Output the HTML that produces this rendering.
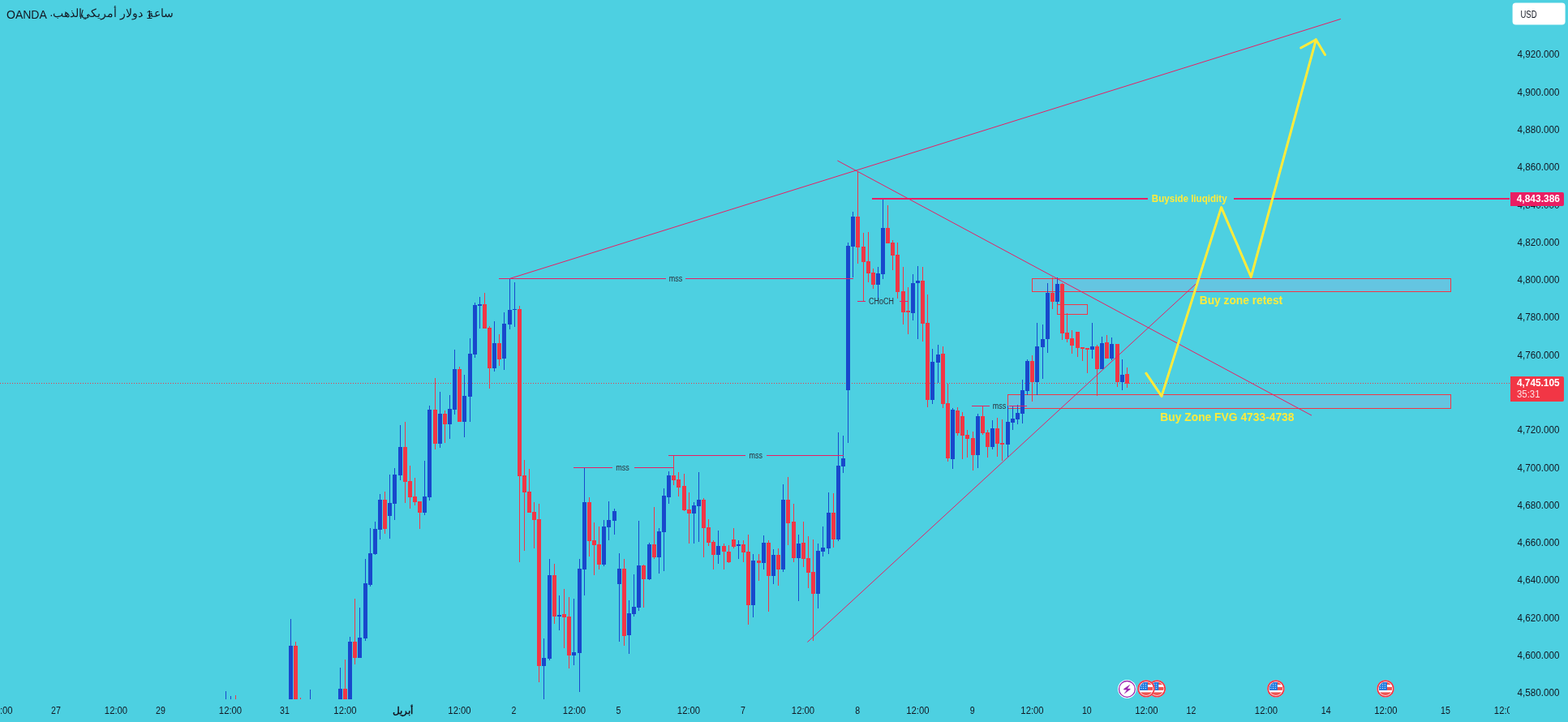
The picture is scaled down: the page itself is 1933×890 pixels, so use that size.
<!DOCTYPE html>
<html lang="en"><head><meta charset="utf-8"><title>XAUUSD chart</title>
<style>
html,body{margin:0;padding:0;}
body{width:1933px;height:890px;background:#4dd0e1;overflow:hidden;position:relative;font-family:"Liberation Sans", sans-serif;}
svg{position:absolute;left:0;top:0;display:block;will-change:transform;}
text{font-family:"Liberation Sans", sans-serif;}
.ax{font-size:12px;fill:#131722;}
.lbl{font-size:10px;fill:#2a2e39;}
.ttl{position:absolute;left:8px;top:9px;font-size:14px;line-height:16px;color:#131722;white-space:nowrap;}
</style></head><body>
<svg width="1933" height="890" viewBox="0 0 1933 890">
<defs><clipPath id="pane"><rect x="0" y="0" width="1861" height="862"/></clipPath>
<clipPath id="taxis"><rect x="0" y="862" width="1861" height="28"/></clipPath>
<clipPath id="flagc"><circle cx="0" cy="0" r="8.2"/></clipPath>
</defs>

<g clip-path="url(#pane)">
<rect x="1272.5" y="343.5" width="516.0" height="16.0" fill="#64c5e1" stroke="#f23645" stroke-width="1" shape-rendering="crispEdges"/>
<rect x="1303.5" y="375.5" width="37.0" height="12.0" fill="#64c5e1" stroke="#f23645" stroke-width="1" shape-rendering="crispEdges"/>
<rect x="1242.5" y="486.5" width="546.0" height="17.0" fill="#64c5e1" stroke="#f23645" stroke-width="1" shape-rendering="crispEdges"/>
<line x1="0" y1="472.5" x2="1861" y2="472.5" stroke="#f23645" stroke-width="1" stroke-dasharray="1 2" shape-rendering="crispEdges"/>
<g shape-rendering="crispEdges">
<rect x="278" y="852" width="1" height="10" fill="#1848cc"/>
<rect x="284" y="858" width="1" height="4" fill="#1848cc"/>
<rect x="290" y="857" width="1" height="5" fill="#f23645"/>
<rect x="358" y="763" width="1" height="137" fill="#1848cc"/>
<rect x="356" y="796" width="5" height="104" fill="#1848cc"/>
<rect x="364" y="791" width="1" height="109" fill="#f23645"/>
<rect x="362" y="796" width="5" height="104" fill="#f23645"/>
<rect x="370" y="860" width="1" height="2" fill="#f23645"/>
<rect x="382" y="850" width="1" height="12" fill="#1848cc"/>
<rect x="419" y="823" width="1" height="77" fill="#1848cc"/>
<rect x="417" y="849" width="5" height="51" fill="#1848cc"/>
<rect x="425" y="813" width="1" height="87" fill="#f23645"/>
<rect x="423" y="849" width="5" height="51" fill="#f23645"/>
<rect x="431" y="785" width="1" height="115" fill="#1848cc"/>
<rect x="429" y="791" width="5" height="109" fill="#1848cc"/>
<rect x="437" y="738" width="1" height="81" fill="#f23645"/>
<rect x="435" y="791" width="5" height="20" fill="#f23645"/>
<rect x="443" y="749" width="1" height="62" fill="#1848cc"/>
<rect x="441" y="786" width="5" height="25" fill="#1848cc"/>
<rect x="450" y="689" width="1" height="101" fill="#1848cc"/>
<rect x="448" y="719" width="5" height="68" fill="#1848cc"/>
<rect x="456" y="651" width="1" height="72" fill="#1848cc"/>
<rect x="454" y="682" width="5" height="39" fill="#1848cc"/>
<rect x="462" y="643" width="1" height="41" fill="#1848cc"/>
<rect x="460" y="652" width="5" height="31" fill="#1848cc"/>
<rect x="468" y="609" width="1" height="56" fill="#1848cc"/>
<rect x="466" y="616" width="5" height="37" fill="#1848cc"/>
<rect x="474" y="606" width="1" height="52" fill="#f23645"/>
<rect x="472" y="616" width="5" height="36" fill="#f23645"/>
<rect x="480" y="585" width="1" height="79" fill="#1848cc"/>
<rect x="478" y="620" width="5" height="16" fill="#1848cc"/>
<rect x="486" y="577" width="1" height="64" fill="#1848cc"/>
<rect x="484" y="585" width="5" height="36" fill="#1848cc"/>
<rect x="493" y="524" width="1" height="68" fill="#1848cc"/>
<rect x="491" y="551" width="5" height="35" fill="#1848cc"/>
<rect x="499" y="520" width="1" height="100" fill="#f23645"/>
<rect x="497" y="551" width="5" height="43" fill="#f23645"/>
<rect x="505" y="574" width="1" height="53" fill="#f23645"/>
<rect x="503" y="593" width="5" height="20" fill="#f23645"/>
<rect x="511" y="589" width="1" height="34" fill="#f23645"/>
<rect x="509" y="612" width="5" height="7" fill="#f23645"/>
<rect x="517" y="618" width="1" height="34" fill="#f23645"/>
<rect x="515" y="618" width="5" height="14" fill="#f23645"/>
<rect x="523" y="568" width="1" height="67" fill="#1848cc"/>
<rect x="521" y="612" width="5" height="20" fill="#1848cc"/>
<rect x="529" y="500" width="1" height="117" fill="#1848cc"/>
<rect x="527" y="505" width="5" height="108" fill="#1848cc"/>
<rect x="536" y="466" width="1" height="88" fill="#f23645"/>
<rect x="534" y="505" width="5" height="42" fill="#f23645"/>
<rect x="542" y="483" width="1" height="69" fill="#1848cc"/>
<rect x="540" y="510" width="5" height="37" fill="#1848cc"/>
<rect x="548" y="506" width="1" height="40" fill="#f23645"/>
<rect x="546" y="510" width="5" height="13" fill="#f23645"/>
<rect x="554" y="487" width="1" height="54" fill="#1848cc"/>
<rect x="552" y="504" width="5" height="19" fill="#1848cc"/>
<rect x="560" y="431" width="1" height="80" fill="#1848cc"/>
<rect x="558" y="455" width="5" height="50" fill="#1848cc"/>
<rect x="566" y="452" width="1" height="68" fill="#f23645"/>
<rect x="564" y="455" width="5" height="65" fill="#f23645"/>
<rect x="572" y="462" width="1" height="77" fill="#1848cc"/>
<rect x="570" y="488" width="5" height="32" fill="#1848cc"/>
<rect x="579" y="417" width="1" height="103" fill="#1848cc"/>
<rect x="577" y="436" width="5" height="53" fill="#1848cc"/>
<rect x="585" y="373" width="1" height="68" fill="#1848cc"/>
<rect x="583" y="376" width="5" height="61" fill="#1848cc"/>
<rect x="591" y="366" width="1" height="39" fill="#1848cc"/>
<rect x="589" y="375" width="5" height="2" fill="#1848cc"/>
<rect x="597" y="361" width="1" height="44" fill="#f23645"/>
<rect x="595" y="375" width="5" height="30" fill="#f23645"/>
<rect x="603" y="402" width="1" height="77" fill="#f23645"/>
<rect x="601" y="404" width="5" height="50" fill="#f23645"/>
<rect x="609" y="396" width="1" height="62" fill="#1848cc"/>
<rect x="607" y="423" width="5" height="31" fill="#1848cc"/>
<rect x="615" y="412" width="1" height="39" fill="#f23645"/>
<rect x="613" y="423" width="5" height="20" fill="#f23645"/>
<rect x="621" y="385" width="1" height="71" fill="#1848cc"/>
<rect x="619" y="399" width="5" height="43" fill="#1848cc"/>
<rect x="628" y="343" width="1" height="63" fill="#1848cc"/>
<rect x="626" y="382" width="5" height="18" fill="#1848cc"/>
<rect x="634" y="348" width="1" height="55" fill="#1848cc"/>
<rect x="632" y="381" width="5" height="1" fill="#1848cc"/>
<rect x="640" y="377" width="1" height="316" fill="#f23645"/>
<rect x="638" y="381" width="5" height="206" fill="#f23645"/>
<rect x="646" y="567" width="1" height="112" fill="#f23645"/>
<rect x="644" y="586" width="5" height="21" fill="#f23645"/>
<rect x="652" y="578" width="1" height="54" fill="#f23645"/>
<rect x="650" y="606" width="5" height="26" fill="#f23645"/>
<rect x="658" y="619" width="1" height="57" fill="#f23645"/>
<rect x="656" y="631" width="5" height="10" fill="#f23645"/>
<rect x="664" y="621" width="1" height="220" fill="#f23645"/>
<rect x="662" y="640" width="5" height="181" fill="#f23645"/>
<rect x="670" y="787" width="1" height="75" fill="#1848cc"/>
<rect x="668" y="811" width="5" height="10" fill="#1848cc"/>
<rect x="677" y="689" width="1" height="125" fill="#1848cc"/>
<rect x="675" y="709" width="5" height="103" fill="#1848cc"/>
<rect x="683" y="695" width="1" height="74" fill="#f23645"/>
<rect x="681" y="709" width="5" height="51" fill="#f23645"/>
<rect x="689" y="734" width="1" height="43" fill="#1848cc"/>
<rect x="687" y="758" width="5" height="2" fill="#1848cc"/>
<rect x="695" y="726" width="1" height="73" fill="#f23645"/>
<rect x="693" y="757" width="5" height="4" fill="#f23645"/>
<rect x="701" y="736" width="1" height="88" fill="#f23645"/>
<rect x="699" y="760" width="5" height="48" fill="#f23645"/>
<rect x="707" y="738" width="1" height="82" fill="#1848cc"/>
<rect x="705" y="804" width="5" height="4" fill="#1848cc"/>
<rect x="714" y="689" width="1" height="164" fill="#1848cc"/>
<rect x="712" y="701" width="5" height="104" fill="#1848cc"/>
<rect x="720" y="577" width="1" height="157" fill="#1848cc"/>
<rect x="718" y="619" width="5" height="83" fill="#1848cc"/>
<rect x="726" y="613" width="1" height="73" fill="#f23645"/>
<rect x="724" y="619" width="5" height="48" fill="#f23645"/>
<rect x="732" y="644" width="1" height="65" fill="#f23645"/>
<rect x="730" y="666" width="5" height="6" fill="#f23645"/>
<rect x="738" y="649" width="1" height="53" fill="#f23645"/>
<rect x="736" y="671" width="5" height="25" fill="#f23645"/>
<rect x="744" y="641" width="1" height="57" fill="#1848cc"/>
<rect x="742" y="649" width="5" height="47" fill="#1848cc"/>
<rect x="750" y="618" width="1" height="48" fill="#1848cc"/>
<rect x="748" y="641" width="5" height="9" fill="#1848cc"/>
<rect x="757" y="627" width="1" height="32" fill="#1848cc"/>
<rect x="755" y="630" width="5" height="12" fill="#1848cc"/>
<rect x="763" y="682" width="1" height="109" fill="#1848cc"/>
<rect x="761" y="701" width="5" height="19" fill="#1848cc"/>
<rect x="769" y="689" width="1" height="107" fill="#f23645"/>
<rect x="767" y="701" width="5" height="83" fill="#f23645"/>
<rect x="775" y="740" width="1" height="66" fill="#1848cc"/>
<rect x="773" y="756" width="5" height="27" fill="#1848cc"/>
<rect x="781" y="708" width="1" height="52" fill="#1848cc"/>
<rect x="779" y="748" width="5" height="9" fill="#1848cc"/>
<rect x="787" y="642" width="1" height="111" fill="#1848cc"/>
<rect x="785" y="697" width="5" height="52" fill="#1848cc"/>
<rect x="793" y="696" width="1" height="53" fill="#f23645"/>
<rect x="791" y="697" width="5" height="17" fill="#f23645"/>
<rect x="800" y="669" width="1" height="46" fill="#1848cc"/>
<rect x="798" y="671" width="5" height="43" fill="#1848cc"/>
<rect x="806" y="625" width="1" height="64" fill="#f23645"/>
<rect x="804" y="671" width="5" height="16" fill="#f23645"/>
<rect x="812" y="651" width="1" height="56" fill="#1848cc"/>
<rect x="810" y="655" width="5" height="32" fill="#1848cc"/>
<rect x="818" y="602" width="1" height="102" fill="#1848cc"/>
<rect x="816" y="611" width="5" height="45" fill="#1848cc"/>
<rect x="824" y="581" width="1" height="40" fill="#1848cc"/>
<rect x="822" y="586" width="5" height="27" fill="#1848cc"/>
<rect x="830" y="562" width="1" height="36" fill="#f23645"/>
<rect x="828" y="586" width="5" height="6" fill="#f23645"/>
<rect x="836" y="582" width="1" height="30" fill="#f23645"/>
<rect x="834" y="591" width="5" height="10" fill="#f23645"/>
<rect x="843" y="584" width="1" height="46" fill="#f23645"/>
<rect x="841" y="599" width="5" height="30" fill="#f23645"/>
<rect x="849" y="607" width="1" height="63" fill="#f23645"/>
<rect x="847" y="628" width="5" height="5" fill="#f23645"/>
<rect x="855" y="619" width="1" height="51" fill="#1848cc"/>
<rect x="853" y="623" width="5" height="10" fill="#1848cc"/>
<rect x="861" y="582" width="1" height="86" fill="#1848cc"/>
<rect x="859" y="616" width="5" height="8" fill="#1848cc"/>
<rect x="867" y="614" width="1" height="73" fill="#f23645"/>
<rect x="865" y="616" width="5" height="35" fill="#f23645"/>
<rect x="873" y="640" width="1" height="33" fill="#f23645"/>
<rect x="871" y="650" width="5" height="19" fill="#f23645"/>
<rect x="879" y="666" width="1" height="36" fill="#f23645"/>
<rect x="877" y="668" width="5" height="16" fill="#f23645"/>
<rect x="885" y="654" width="1" height="41" fill="#1848cc"/>
<rect x="883" y="673" width="5" height="11" fill="#1848cc"/>
<rect x="892" y="670" width="1" height="32" fill="#f23645"/>
<rect x="890" y="673" width="5" height="7" fill="#f23645"/>
<rect x="898" y="672" width="1" height="22" fill="#f23645"/>
<rect x="896" y="680" width="5" height="13" fill="#f23645"/>
<rect x="904" y="651" width="1" height="25" fill="#f23645"/>
<rect x="902" y="665" width="5" height="9" fill="#f23645"/>
<rect x="910" y="666" width="1" height="23" fill="#1848cc"/>
<rect x="908" y="671" width="5" height="2" fill="#1848cc"/>
<rect x="916" y="666" width="1" height="27" fill="#f23645"/>
<rect x="914" y="671" width="5" height="10" fill="#f23645"/>
<rect x="922" y="659" width="1" height="111" fill="#f23645"/>
<rect x="920" y="680" width="5" height="66" fill="#f23645"/>
<rect x="928" y="683" width="1" height="78" fill="#1848cc"/>
<rect x="926" y="691" width="5" height="55" fill="#1848cc"/>
<rect x="935" y="683" width="1" height="33" fill="#f23645"/>
<rect x="933" y="691" width="5" height="3" fill="#f23645"/>
<rect x="941" y="660" width="1" height="42" fill="#1848cc"/>
<rect x="939" y="669" width="5" height="25" fill="#1848cc"/>
<rect x="947" y="666" width="1" height="88" fill="#f23645"/>
<rect x="945" y="669" width="5" height="41" fill="#f23645"/>
<rect x="953" y="677" width="1" height="43" fill="#1848cc"/>
<rect x="951" y="684" width="5" height="26" fill="#1848cc"/>
<rect x="959" y="676" width="1" height="46" fill="#f23645"/>
<rect x="957" y="684" width="5" height="18" fill="#f23645"/>
<rect x="965" y="597" width="1" height="108" fill="#1848cc"/>
<rect x="963" y="616" width="5" height="86" fill="#1848cc"/>
<rect x="971" y="588" width="1" height="84" fill="#f23645"/>
<rect x="969" y="616" width="5" height="29" fill="#f23645"/>
<rect x="978" y="621" width="1" height="72" fill="#f23645"/>
<rect x="976" y="643" width="5" height="45" fill="#f23645"/>
<rect x="984" y="659" width="1" height="82" fill="#1848cc"/>
<rect x="982" y="670" width="5" height="18" fill="#1848cc"/>
<rect x="990" y="643" width="1" height="56" fill="#f23645"/>
<rect x="988" y="669" width="5" height="20" fill="#f23645"/>
<rect x="996" y="661" width="1" height="64" fill="#f23645"/>
<rect x="994" y="688" width="5" height="18" fill="#f23645"/>
<rect x="1002" y="665" width="1" height="125" fill="#f23645"/>
<rect x="1000" y="705" width="5" height="27" fill="#f23645"/>
<rect x="1008" y="670" width="1" height="80" fill="#1848cc"/>
<rect x="1006" y="679" width="5" height="53" fill="#1848cc"/>
<rect x="1014" y="649" width="1" height="37" fill="#1848cc"/>
<rect x="1012" y="675" width="5" height="5" fill="#1848cc"/>
<rect x="1021" y="607" width="1" height="76" fill="#1848cc"/>
<rect x="1019" y="632" width="5" height="44" fill="#1848cc"/>
<rect x="1027" y="608" width="1" height="67" fill="#f23645"/>
<rect x="1025" y="632" width="5" height="33" fill="#f23645"/>
<rect x="1033" y="533" width="1" height="134" fill="#1848cc"/>
<rect x="1031" y="574" width="5" height="91" fill="#1848cc"/>
<rect x="1039" y="537" width="1" height="46" fill="#1848cc"/>
<rect x="1037" y="565" width="5" height="10" fill="#1848cc"/>
<rect x="1045" y="299" width="1" height="247" fill="#1848cc"/>
<rect x="1043" y="303" width="5" height="178" fill="#1848cc"/>
<rect x="1051" y="261" width="1" height="81" fill="#1848cc"/>
<rect x="1049" y="267" width="5" height="37" fill="#1848cc"/>
<rect x="1057" y="211" width="1" height="114" fill="#f23645"/>
<rect x="1055" y="267" width="5" height="38" fill="#f23645"/>
<rect x="1064" y="287" width="1" height="84" fill="#f23645"/>
<rect x="1062" y="304" width="5" height="19" fill="#f23645"/>
<rect x="1070" y="286" width="1" height="62" fill="#f23645"/>
<rect x="1068" y="322" width="5" height="15" fill="#f23645"/>
<rect x="1076" y="331" width="1" height="25" fill="#f23645"/>
<rect x="1074" y="336" width="5" height="15" fill="#f23645"/>
<rect x="1082" y="329" width="1" height="42" fill="#1848cc"/>
<rect x="1080" y="337" width="5" height="14" fill="#1848cc"/>
<rect x="1088" y="244" width="1" height="100" fill="#1848cc"/>
<rect x="1086" y="281" width="5" height="57" fill="#1848cc"/>
<rect x="1094" y="253" width="1" height="47" fill="#f23645"/>
<rect x="1092" y="281" width="5" height="19" fill="#f23645"/>
<rect x="1100" y="296" width="1" height="37" fill="#f23645"/>
<rect x="1098" y="299" width="5" height="16" fill="#f23645"/>
<rect x="1106" y="299" width="1" height="69" fill="#f23645"/>
<rect x="1104" y="314" width="5" height="46" fill="#f23645"/>
<rect x="1113" y="329" width="1" height="71" fill="#f23645"/>
<rect x="1111" y="359" width="5" height="26" fill="#f23645"/>
<rect x="1119" y="354" width="1" height="58" fill="#f23645"/>
<rect x="1117" y="383" width="5" height="2" fill="#f23645"/>
<rect x="1125" y="338" width="1" height="57" fill="#1848cc"/>
<rect x="1123" y="349" width="5" height="37" fill="#1848cc"/>
<rect x="1131" y="328" width="1" height="90" fill="#1848cc"/>
<rect x="1129" y="346" width="5" height="3" fill="#1848cc"/>
<rect x="1137" y="329" width="1" height="92" fill="#f23645"/>
<rect x="1135" y="346" width="5" height="53" fill="#f23645"/>
<rect x="1143" y="363" width="1" height="139" fill="#f23645"/>
<rect x="1141" y="398" width="5" height="95" fill="#f23645"/>
<rect x="1149" y="430" width="1" height="68" fill="#1848cc"/>
<rect x="1147" y="446" width="5" height="47" fill="#1848cc"/>
<rect x="1156" y="425" width="1" height="47" fill="#1848cc"/>
<rect x="1154" y="437" width="5" height="10" fill="#1848cc"/>
<rect x="1162" y="427" width="1" height="76" fill="#f23645"/>
<rect x="1160" y="436" width="5" height="62" fill="#f23645"/>
<rect x="1168" y="473" width="1" height="96" fill="#f23645"/>
<rect x="1166" y="497" width="5" height="68" fill="#f23645"/>
<rect x="1174" y="503" width="1" height="75" fill="#1848cc"/>
<rect x="1172" y="505" width="5" height="61" fill="#1848cc"/>
<rect x="1180" y="502" width="1" height="35" fill="#f23645"/>
<rect x="1178" y="506" width="5" height="28" fill="#f23645"/>
<rect x="1186" y="508" width="1" height="58" fill="#f23645"/>
<rect x="1184" y="513" width="5" height="24" fill="#f23645"/>
<rect x="1192" y="530" width="1" height="34" fill="#f23645"/>
<rect x="1190" y="536" width="5" height="5" fill="#f23645"/>
<rect x="1199" y="532" width="1" height="48" fill="#f23645"/>
<rect x="1197" y="540" width="5" height="21" fill="#f23645"/>
<rect x="1205" y="510" width="1" height="67" fill="#1848cc"/>
<rect x="1203" y="513" width="5" height="48" fill="#1848cc"/>
<rect x="1211" y="501" width="1" height="35" fill="#f23645"/>
<rect x="1209" y="513" width="5" height="21" fill="#f23645"/>
<rect x="1217" y="530" width="1" height="34" fill="#f23645"/>
<rect x="1215" y="533" width="5" height="18" fill="#f23645"/>
<rect x="1223" y="518" width="1" height="36" fill="#1848cc"/>
<rect x="1221" y="528" width="5" height="23" fill="#1848cc"/>
<rect x="1229" y="515" width="1" height="48" fill="#f23645"/>
<rect x="1227" y="528" width="5" height="19" fill="#f23645"/>
<rect x="1235" y="517" width="1" height="51" fill="#f23645"/>
<rect x="1233" y="546" width="5" height="2" fill="#f23645"/>
<rect x="1242" y="500" width="1" height="64" fill="#1848cc"/>
<rect x="1240" y="520" width="5" height="28" fill="#1848cc"/>
<rect x="1248" y="500" width="1" height="30" fill="#1848cc"/>
<rect x="1246" y="516" width="5" height="5" fill="#1848cc"/>
<rect x="1254" y="499" width="1" height="24" fill="#1848cc"/>
<rect x="1252" y="509" width="5" height="8" fill="#1848cc"/>
<rect x="1260" y="468" width="1" height="54" fill="#1848cc"/>
<rect x="1258" y="481" width="5" height="29" fill="#1848cc"/>
<rect x="1266" y="443" width="1" height="44" fill="#1848cc"/>
<rect x="1264" y="445" width="5" height="37" fill="#1848cc"/>
<rect x="1272" y="438" width="1" height="57" fill="#f23645"/>
<rect x="1270" y="445" width="5" height="26" fill="#f23645"/>
<rect x="1278" y="398" width="1" height="89" fill="#1848cc"/>
<rect x="1276" y="427" width="5" height="44" fill="#1848cc"/>
<rect x="1285" y="400" width="1" height="67" fill="#1848cc"/>
<rect x="1283" y="418" width="5" height="10" fill="#1848cc"/>
<rect x="1291" y="349" width="1" height="86" fill="#1848cc"/>
<rect x="1289" y="361" width="5" height="57" fill="#1848cc"/>
<rect x="1297" y="342" width="1" height="39" fill="#f23645"/>
<rect x="1295" y="361" width="5" height="11" fill="#f23645"/>
<rect x="1303" y="342" width="1" height="33" fill="#1848cc"/>
<rect x="1301" y="350" width="5" height="22" fill="#1848cc"/>
<rect x="1309" y="349" width="1" height="70" fill="#f23645"/>
<rect x="1307" y="350" width="5" height="61" fill="#f23645"/>
<rect x="1315" y="386" width="1" height="36" fill="#f23645"/>
<rect x="1313" y="410" width="5" height="8" fill="#f23645"/>
<rect x="1321" y="407" width="1" height="29" fill="#f23645"/>
<rect x="1319" y="417" width="5" height="9" fill="#f23645"/>
<rect x="1328" y="409" width="1" height="31" fill="#f23645"/>
<rect x="1326" y="409" width="5" height="20" fill="#f23645"/>
<rect x="1334" y="428" width="1" height="17" fill="#f23645"/>
<rect x="1332" y="428" width="5" height="2" fill="#f23645"/>
<rect x="1340" y="429" width="1" height="31" fill="#f23645"/>
<rect x="1338" y="429" width="5" height="2" fill="#f23645"/>
<rect x="1346" y="398" width="1" height="44" fill="#1848cc"/>
<rect x="1344" y="427" width="5" height="4" fill="#1848cc"/>
<rect x="1352" y="425" width="1" height="63" fill="#f23645"/>
<rect x="1350" y="427" width="5" height="28" fill="#f23645"/>
<rect x="1358" y="415" width="1" height="40" fill="#1848cc"/>
<rect x="1356" y="423" width="5" height="32" fill="#1848cc"/>
<rect x="1364" y="413" width="1" height="29" fill="#f23645"/>
<rect x="1362" y="422" width="5" height="20" fill="#f23645"/>
<rect x="1370" y="416" width="1" height="28" fill="#1848cc"/>
<rect x="1368" y="424" width="5" height="18" fill="#1848cc"/>
<rect x="1377" y="424" width="1" height="53" fill="#f23645"/>
<rect x="1375" y="424" width="5" height="47" fill="#f23645"/>
<rect x="1383" y="443" width="1" height="38" fill="#1848cc"/>
<rect x="1381" y="462" width="5" height="9" fill="#1848cc"/>
<rect x="1389" y="453" width="1" height="25" fill="#f23645"/>
<rect x="1387" y="461" width="5" height="12" fill="#f23645"/>
</g>
<line x1="628.5" y1="343.4" x2="1652.9" y2="23.4" stroke="#e91e63" stroke-width="1"/>
<line x1="1032.4" y1="198" x2="1617" y2="512.1" stroke="#e91e63" stroke-width="1"/>
<line x1="995.4" y1="791.5" x2="1474.3" y2="349.9" stroke="#e91e63" stroke-width="1"/>
<rect x="615" y="343.0" width="206" height="1" fill="#e91e63" shape-rendering="crispEdges"/>
<rect x="845" y="343.0" width="207" height="1" fill="#e91e63" shape-rendering="crispEdges"/>
<rect x="707" y="576.0" width="48" height="1" fill="#e91e63" shape-rendering="crispEdges"/>
<rect x="782" y="576.0" width="49" height="1" fill="#e91e63" shape-rendering="crispEdges"/>
<rect x="824" y="561.0" width="95" height="1" fill="#e91e63" shape-rendering="crispEdges"/>
<rect x="945" y="561.0" width="95" height="1" fill="#e91e63" shape-rendering="crispEdges"/>
<rect x="1198" y="500.0" width="22" height="1" fill="#e91e63" shape-rendering="crispEdges"/>
<rect x="1244" y="500.0" width="22" height="1" fill="#e91e63" shape-rendering="crispEdges"/>
<rect x="1057" y="371.0" width="10" height="1" fill="#e91e63" shape-rendering="crispEdges"/>
<rect x="1109" y="371.0" width="10" height="1" fill="#e91e63" shape-rendering="crispEdges"/>
<rect x="1075" y="244" width="340" height="2" fill="#e91e63" shape-rendering="crispEdges"/>
<rect x="1521" y="244" width="340" height="2" fill="#e91e63" shape-rendering="crispEdges"/>
<polyline points="1412.9,460.2 1432.0,488.4 1505.6,255.6 1542.3,341.4 1622.4,48.9" fill="none" stroke="#ffeb3b" stroke-width="3" stroke-linejoin="round" stroke-linecap="round"/>
<polyline points="1603.7,59.0 1622.4,48.9 1633.5,67.4" fill="none" stroke="#ffeb3b" stroke-width="3" stroke-linejoin="round" stroke-linecap="round"/>
<text x="824.8" y="347.2" font-size="10px" font-weight="normal" fill="#2a2e39" textLength="16.5" lengthAdjust="spacingAndGlyphs">mss</text>
<text x="759.2" y="580.2" font-size="10px" font-weight="normal" fill="#2a2e39" textLength="16.5" lengthAdjust="spacingAndGlyphs">mss</text>
<text x="923.6" y="565.2" font-size="10px" font-weight="normal" fill="#2a2e39" textLength="16.5" lengthAdjust="spacingAndGlyphs">mss</text>
<text x="1223.8" y="504.2" font-size="10px" font-weight="normal" fill="#2a2e39" textLength="16.5" lengthAdjust="spacingAndGlyphs">mss</text>
<text x="1071.1" y="374.9" font-size="10px" font-weight="normal" fill="#2a2e39" textLength="30.8" lengthAdjust="spacingAndGlyphs">CHoCH</text>
<text x="1419.8" y="248.7" font-size="12px" font-weight="bold" fill="#ffeb3b" textLength="92.8" lengthAdjust="spacingAndGlyphs">Buyside liuqidity</text>
<text x="1478.8" y="375.4" font-size="14px" font-weight="bold" fill="#ffeb3b" textLength="102.3" lengthAdjust="spacingAndGlyphs">Buy zone retest</text>
<text x="1430.3" y="518.7" font-size="14px" font-weight="bold" fill="#ffeb3b" textLength="165.2" lengthAdjust="spacingAndGlyphs">Buy Zone FVG 4733-4738</text>
<g transform="translate(1389.4,849.4)"><circle r="11.4" fill="#fff"/><circle r="9.9" fill="#fff" stroke="#9c27b0" stroke-width="1.3"/><path d="M3.5,-5.3 L-4.1,-0.1 L-3.9,0.8 L-0.1,0.8 L-3.2,5.5 L4,0.4 L3.7,-0.5 L0.4,-0.5 Z" fill="#9c27b0" stroke="#9c27b0" stroke-width="0.3" stroke-linejoin="round"/></g>
<g transform="translate(1426.4,848.9)">
<circle r="10.6" fill="#fff"/>
<circle r="9.8" fill="none" stroke="#f23645" stroke-width="1.7"/>
<g clip-path="url(#flagc)">
<rect x="-9" y="-9" width="18" height="18" fill="#fff"/>
<rect x="-9" y="-9" width="18" height="4.1" fill="#ef5350"/>
<rect x="-9" y="-2" width="18" height="4" fill="#ef5350"/>
<rect x="-9" y="4.5" width="18" height="4.5" fill="#ef5350"/>
<rect x="-8.3" y="-8.3" width="10.2" height="10.3" fill="#1e7be0"/>
<g fill="#fff"><rect x="-6.6" y="-6" width="1" height="1"/><rect x="-3.9" y="-6" width="1" height="1"/><rect x="-1.2" y="-6" width="1" height="1"/>
<rect x="-6.6" y="-3.4" width="1" height="1"/><rect x="-3.9" y="-3.4" width="1" height="1"/><rect x="-1.2" y="-3.4" width="1" height="1"/>
<rect x="-6.6" y="-0.8" width="1" height="1"/><rect x="-3.9" y="-0.8" width="1" height="1"/><rect x="-1.2" y="-0.8" width="1" height="1"/></g>
</g></g>
<g transform="translate(1413.0,848.9)">
<circle r="10.6" fill="#fff"/>
<circle r="9.8" fill="none" stroke="#f23645" stroke-width="1.7"/>
<g clip-path="url(#flagc)">
<rect x="-9" y="-9" width="18" height="18" fill="#fff"/>
<rect x="-9" y="-9" width="18" height="4.1" fill="#ef5350"/>
<rect x="-9" y="-2" width="18" height="4" fill="#ef5350"/>
<rect x="-9" y="4.5" width="18" height="4.5" fill="#ef5350"/>
<rect x="-8.3" y="-8.3" width="10.2" height="10.3" fill="#1e7be0"/>
<g fill="#fff"><rect x="-6.6" y="-6" width="1" height="1"/><rect x="-3.9" y="-6" width="1" height="1"/><rect x="-1.2" y="-6" width="1" height="1"/>
<rect x="-6.6" y="-3.4" width="1" height="1"/><rect x="-3.9" y="-3.4" width="1" height="1"/><rect x="-1.2" y="-3.4" width="1" height="1"/>
<rect x="-6.6" y="-0.8" width="1" height="1"/><rect x="-3.9" y="-0.8" width="1" height="1"/><rect x="-1.2" y="-0.8" width="1" height="1"/></g>
</g></g>
<g transform="translate(1572.9,848.9)">
<circle r="10.6" fill="#fff"/>
<circle r="9.8" fill="none" stroke="#f23645" stroke-width="1.7"/>
<g clip-path="url(#flagc)">
<rect x="-9" y="-9" width="18" height="18" fill="#fff"/>
<rect x="-9" y="-9" width="18" height="4.1" fill="#ef5350"/>
<rect x="-9" y="-2" width="18" height="4" fill="#ef5350"/>
<rect x="-9" y="4.5" width="18" height="4.5" fill="#ef5350"/>
<rect x="-8.3" y="-8.3" width="10.2" height="10.3" fill="#1e7be0"/>
<g fill="#fff"><rect x="-6.6" y="-6" width="1" height="1"/><rect x="-3.9" y="-6" width="1" height="1"/><rect x="-1.2" y="-6" width="1" height="1"/>
<rect x="-6.6" y="-3.4" width="1" height="1"/><rect x="-3.9" y="-3.4" width="1" height="1"/><rect x="-1.2" y="-3.4" width="1" height="1"/>
<rect x="-6.6" y="-0.8" width="1" height="1"/><rect x="-3.9" y="-0.8" width="1" height="1"/><rect x="-1.2" y="-0.8" width="1" height="1"/></g>
</g></g>
<g transform="translate(1708.0,848.9)">
<circle r="10.6" fill="#fff"/>
<circle r="9.8" fill="none" stroke="#f23645" stroke-width="1.7"/>
<g clip-path="url(#flagc)">
<rect x="-9" y="-9" width="18" height="18" fill="#fff"/>
<rect x="-9" y="-9" width="18" height="4.1" fill="#ef5350"/>
<rect x="-9" y="-2" width="18" height="4" fill="#ef5350"/>
<rect x="-9" y="4.5" width="18" height="4.5" fill="#ef5350"/>
<rect x="-8.3" y="-8.3" width="10.2" height="10.3" fill="#1e7be0"/>
<g fill="#fff"><rect x="-6.6" y="-6" width="1" height="1"/><rect x="-3.9" y="-6" width="1" height="1"/><rect x="-1.2" y="-6" width="1" height="1"/>
<rect x="-6.6" y="-3.4" width="1" height="1"/><rect x="-3.9" y="-3.4" width="1" height="1"/><rect x="-1.2" y="-3.4" width="1" height="1"/>
<rect x="-6.6" y="-0.8" width="1" height="1"/><rect x="-3.9" y="-0.8" width="1" height="1"/><rect x="-1.2" y="-0.8" width="1" height="1"/></g>
</g></g>
</g>
<g clip-path="url(#taxis)">
<text x="1.5" y="880" class="ax" text-anchor="middle" textLength="28.3" lengthAdjust="spacingAndGlyphs">12:00</text>
<text x="69" y="880" class="ax" text-anchor="middle" textLength="11.8" lengthAdjust="spacingAndGlyphs">27</text>
<text x="143" y="880" class="ax" text-anchor="middle" textLength="28.3" lengthAdjust="spacingAndGlyphs">12:00</text>
<text x="198" y="880" class="ax" text-anchor="middle" textLength="11.8" lengthAdjust="spacingAndGlyphs">29</text>
<text x="284" y="880" class="ax" text-anchor="middle" textLength="28.3" lengthAdjust="spacingAndGlyphs">12:00</text>
<text x="351" y="880" class="ax" text-anchor="middle" textLength="11.8" lengthAdjust="spacingAndGlyphs">31</text>
<text x="425.5" y="880" class="ax" text-anchor="middle" textLength="28.3" lengthAdjust="spacingAndGlyphs">12:00</text>
<text x="566.5" y="880" class="ax" text-anchor="middle" textLength="28.3" lengthAdjust="spacingAndGlyphs">12:00</text>
<text x="633.5" y="880" class="ax" text-anchor="middle" textLength="5.9" lengthAdjust="spacingAndGlyphs">2</text>
<text x="708" y="880" class="ax" text-anchor="middle" textLength="28.3" lengthAdjust="spacingAndGlyphs">12:00</text>
<text x="762.5" y="880" class="ax" text-anchor="middle" textLength="5.9" lengthAdjust="spacingAndGlyphs">5</text>
<text x="849" y="880" class="ax" text-anchor="middle" textLength="28.3" lengthAdjust="spacingAndGlyphs">12:00</text>
<text x="916" y="880" class="ax" text-anchor="middle" textLength="5.9" lengthAdjust="spacingAndGlyphs">7</text>
<text x="990" y="880" class="ax" text-anchor="middle" textLength="28.3" lengthAdjust="spacingAndGlyphs">12:00</text>
<text x="1057.2" y="880" class="ax" text-anchor="middle" textLength="5.9" lengthAdjust="spacingAndGlyphs">8</text>
<text x="1131.4" y="880" class="ax" text-anchor="middle" textLength="28.3" lengthAdjust="spacingAndGlyphs">12:00</text>
<text x="1198.6" y="880" class="ax" text-anchor="middle" textLength="5.9" lengthAdjust="spacingAndGlyphs">9</text>
<text x="1272.5" y="880" class="ax" text-anchor="middle" textLength="28.3" lengthAdjust="spacingAndGlyphs">12:00</text>
<text x="1339.8" y="880" class="ax" text-anchor="middle" textLength="11.8" lengthAdjust="spacingAndGlyphs">10</text>
<text x="1413.4" y="880" class="ax" text-anchor="middle" textLength="28.3" lengthAdjust="spacingAndGlyphs">12:00</text>
<text x="1468.5" y="880" class="ax" text-anchor="middle" textLength="11.8" lengthAdjust="spacingAndGlyphs">12</text>
<text x="1561" y="880" class="ax" text-anchor="middle" textLength="28.3" lengthAdjust="spacingAndGlyphs">12:00</text>
<text x="1634.7" y="880" class="ax" text-anchor="middle" textLength="11.8" lengthAdjust="spacingAndGlyphs">14</text>
<text x="1708.4" y="880" class="ax" text-anchor="middle" textLength="28.3" lengthAdjust="spacingAndGlyphs">12:00</text>
<text x="1782" y="880" class="ax" text-anchor="middle" textLength="11.8" lengthAdjust="spacingAndGlyphs">15</text>
<text x="1856" y="880" class="ax" text-anchor="middle" textLength="28.3" lengthAdjust="spacingAndGlyphs">12:00</text>
<text x="496" y="880" class="ax" text-anchor="middle" font-weight="bold">أبريل</text>
</g>
<text x="1870.5" y="858.3" font-size="12px" font-weight="normal" fill="#131722" textLength="52" lengthAdjust="spacingAndGlyphs">4,580.000</text>
<text x="1870.5" y="812.0" font-size="12px" font-weight="normal" fill="#131722" textLength="52" lengthAdjust="spacingAndGlyphs">4,600.000</text>
<text x="1870.5" y="765.7" font-size="12px" font-weight="normal" fill="#131722" textLength="52" lengthAdjust="spacingAndGlyphs">4,620.000</text>
<text x="1870.5" y="719.4" font-size="12px" font-weight="normal" fill="#131722" textLength="52" lengthAdjust="spacingAndGlyphs">4,640.000</text>
<text x="1870.5" y="673.1" font-size="12px" font-weight="normal" fill="#131722" textLength="52" lengthAdjust="spacingAndGlyphs">4,660.000</text>
<text x="1870.5" y="626.8" font-size="12px" font-weight="normal" fill="#131722" textLength="52" lengthAdjust="spacingAndGlyphs">4,680.000</text>
<text x="1870.5" y="580.5" font-size="12px" font-weight="normal" fill="#131722" textLength="52" lengthAdjust="spacingAndGlyphs">4,700.000</text>
<text x="1870.5" y="534.2" font-size="12px" font-weight="normal" fill="#131722" textLength="52" lengthAdjust="spacingAndGlyphs">4,720.000</text>
<text x="1870.5" y="487.9" font-size="12px" font-weight="normal" fill="#131722" textLength="52" lengthAdjust="spacingAndGlyphs">4,740.000</text>
<text x="1870.5" y="441.7" font-size="12px" font-weight="normal" fill="#131722" textLength="52" lengthAdjust="spacingAndGlyphs">4,760.000</text>
<text x="1870.5" y="395.4" font-size="12px" font-weight="normal" fill="#131722" textLength="52" lengthAdjust="spacingAndGlyphs">4,780.000</text>
<text x="1870.5" y="349.1" font-size="12px" font-weight="normal" fill="#131722" textLength="52" lengthAdjust="spacingAndGlyphs">4,800.000</text>
<text x="1870.5" y="302.8" font-size="12px" font-weight="normal" fill="#131722" textLength="52" lengthAdjust="spacingAndGlyphs">4,820.000</text>
<text x="1870.5" y="256.5" font-size="12px" font-weight="normal" fill="#131722" textLength="52" lengthAdjust="spacingAndGlyphs">4,840.000</text>
<text x="1870.5" y="210.2" font-size="12px" font-weight="normal" fill="#131722" textLength="52" lengthAdjust="spacingAndGlyphs">4,860.000</text>
<text x="1870.5" y="163.9" font-size="12px" font-weight="normal" fill="#131722" textLength="52" lengthAdjust="spacingAndGlyphs">4,880.000</text>
<text x="1870.5" y="117.6" font-size="12px" font-weight="normal" fill="#131722" textLength="52" lengthAdjust="spacingAndGlyphs">4,900.000</text>
<text x="1870.5" y="71.3" font-size="12px" font-weight="normal" fill="#131722" textLength="52" lengthAdjust="spacingAndGlyphs">4,920.000</text>
<path d="M1862,237 H1926 a2,2 0 0 1 2,2 V252 a2,2 0 0 1 -2,2 H1862 Z" fill="#e91e63"/>
<text x="1869.7" y="248.7" font-size="12px" font-weight="bold" fill="#fff" textLength="53.3" lengthAdjust="spacingAndGlyphs">4,843.386</text>
<path d="M1862,464 H1926 a2,2 0 0 1 2,2 V493 a2,2 0 0 1 -2,2 H1862 Z" fill="#f23645"/>
<text x="1870.0" y="475.7" font-size="12px" font-weight="bold" fill="#fff" textLength="52.6" lengthAdjust="spacingAndGlyphs">4,745.105</text>
<text x="1870.0" y="490" font-size="12px" font-weight="normal" fill="#fde0e3" textLength="28.5" lengthAdjust="spacingAndGlyphs">35:31</text>
<rect x="1864.6" y="3.5" width="65" height="26.9" rx="4" fill="#fff"/>
<text x="1874.5" y="21.9" font-size="12px" font-weight="normal" fill="#131722" textLength="20.1" lengthAdjust="spacingAndGlyphs">USD</text>
<text x="8" y="22.6" font-size="14px" fill="#131722" xml:space="preserve">OANDA ·</text>
<text x="98.8" y="22.6" font-size="14px" fill="#131722">/</text>
<text x="172.6" y="22.6" font-size="14px" fill="#131722">·</text>
<text x="180.3" y="22.6" font-size="14px" fill="#131722">1</text>
<text x="82.8" y="21" font-size="14px" fill="#131722" text-anchor="middle">الذهب</text>
<text x="137.7" y="21" font-size="14px" fill="#131722" text-anchor="middle">دولار أمريكي</text>
<text x="198.4" y="21" font-size="14px" fill="#131722" text-anchor="middle">ساعة</text>
</svg>
</body></html>
